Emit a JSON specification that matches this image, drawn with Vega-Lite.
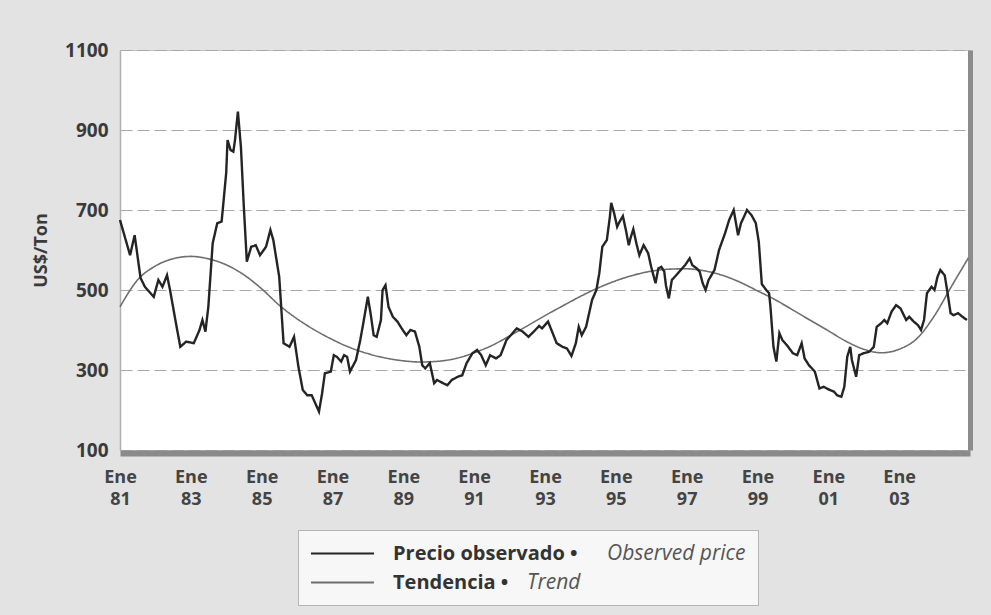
{
  "$schema": "https://vega.github.io/schema/vega-lite/v6.json",
  "width": 850,
  "height": 400,
  "autosize": {"type": "none"},
  "padding": {"left": 120, "top": 50, "right": 21, "bottom": 165},
  "background": "#e3e3e3",
  "config": {
    "font": "Open Sans",
    "view": {"fill": "white", "stroke": "#c4c4c4", "strokeWidth": 1}
  },
  "datasets": {
    "observado": [
      {"fecha": "1981-01-01", "precio": 675}, {"fecha": "1981-04-15", "precio": 587}, {"fecha": "1981-06-01", "precio": 637},
      {"fecha": "1981-08-01", "precio": 530}, {"fecha": "1981-09-15", "precio": 508}, {"fecha": "1981-12-15", "precio": 483},
      {"fecha": "1982-02-01", "precio": 525}, {"fecha": "1982-03-15", "precio": 508}, {"fecha": "1982-05-01", "precio": 537},
      {"fecha": "1982-06-01", "precio": 500}, {"fecha": "1982-08-01", "precio": 417}, {"fecha": "1982-09-15", "precio": 358},
      {"fecha": "1982-11-15", "precio": 371}, {"fecha": "1983-02-01", "precio": 367}, {"fecha": "1983-04-01", "precio": 400},
      {"fecha": "1983-05-01", "precio": 425}, {"fecha": "1983-06-01", "precio": 396}, {"fecha": "1983-07-01", "precio": 458},
      {"fecha": "1983-08-15", "precio": 617}, {"fecha": "1983-10-01", "precio": 667}, {"fecha": "1983-11-15", "precio": 671},
      {"fecha": "1984-01-01", "precio": 792}, {"fecha": "1984-01-15", "precio": 875}, {"fecha": "1984-02-15", "precio": 850},
      {"fecha": "1984-03-15", "precio": 846}, {"fecha": "1984-04-01", "precio": 875}, {"fecha": "1984-05-01", "precio": 946},
      {"fecha": "1984-06-01", "precio": 858}, {"fecha": "1984-07-01", "precio": 708}, {"fecha": "1984-08-01", "precio": 571},
      {"fecha": "1984-09-15", "precio": 608}, {"fecha": "1984-11-01", "precio": 612}, {"fecha": "1984-12-15", "precio": 587},
      {"fecha": "1985-02-15", "precio": 608}, {"fecha": "1985-04-01", "precio": 650}, {"fecha": "1985-05-01", "precio": 625},
      {"fecha": "1985-07-01", "precio": 533}, {"fecha": "1985-08-15", "precio": 367}, {"fecha": "1985-10-15", "precio": 358},
      {"fecha": "1985-12-01", "precio": 383}, {"fecha": "1986-01-15", "precio": 308}, {"fecha": "1986-03-01", "precio": 250},
      {"fecha": "1986-04-15", "precio": 237}, {"fecha": "1986-06-01", "precio": 237}, {"fecha": "1986-08-15", "precio": 196},
      {"fecha": "1986-09-15", "precio": 240}, {"fecha": "1986-10-15", "precio": 292}, {"fecha": "1986-12-15", "precio": 296},
      {"fecha": "1987-01-15", "precio": 337}, {"fecha": "1987-02-15", "precio": 333}, {"fecha": "1987-04-01", "precio": 321},
      {"fecha": "1987-05-01", "precio": 337}, {"fecha": "1987-06-01", "precio": 333}, {"fecha": "1987-07-01", "precio": 296},
      {"fecha": "1987-09-01", "precio": 325}, {"fecha": "1987-10-15", "precio": 375}, {"fecha": "1987-11-15", "precio": 417},
      {"fecha": "1988-01-01", "precio": 483}, {"fecha": "1988-02-01", "precio": 437}, {"fecha": "1988-03-01", "precio": 387},
      {"fecha": "1988-04-01", "precio": 383}, {"fecha": "1988-05-15", "precio": 425}, {"fecha": "1988-06-01", "precio": 500},
      {"fecha": "1988-07-01", "precio": 512}, {"fecha": "1988-08-01", "precio": 458}, {"fecha": "1988-09-15", "precio": 433},
      {"fecha": "1988-11-01", "precio": 421}, {"fecha": "1988-12-15", "precio": 404}, {"fecha": "1989-02-01", "precio": 387},
      {"fecha": "1989-03-15", "precio": 400}, {"fecha": "1989-05-01", "precio": 396}, {"fecha": "1989-06-15", "precio": 358},
      {"fecha": "1989-07-15", "precio": 312}, {"fecha": "1989-08-15", "precio": 304}, {"fecha": "1989-10-01", "precio": 317},
      {"fecha": "1989-11-15", "precio": 267}, {"fecha": "1989-12-15", "precio": 275}, {"fecha": "1990-02-15", "precio": 267},
      {"fecha": "1990-04-01", "precio": 262}, {"fecha": "1990-05-15", "precio": 275}, {"fecha": "1990-07-15", "precio": 283},
      {"fecha": "1990-09-01", "precio": 287}, {"fecha": "1990-10-15", "precio": 317}, {"fecha": "1990-12-15", "precio": 342},
      {"fecha": "1991-02-01", "precio": 350}, {"fecha": "1991-03-15", "precio": 337}, {"fecha": "1991-05-01", "precio": 312},
      {"fecha": "1991-06-15", "precio": 337}, {"fecha": "1991-08-15", "precio": 329}, {"fecha": "1991-10-01", "precio": 337},
      {"fecha": "1991-12-01", "precio": 375}, {"fecha": "1992-01-15", "precio": 387}, {"fecha": "1992-03-15", "precio": 404},
      {"fecha": "1992-05-15", "precio": 396}, {"fecha": "1992-07-15", "precio": 383}, {"fecha": "1992-09-15", "precio": 398},
      {"fecha": "1992-11-01", "precio": 410}, {"fecha": "1992-12-01", "precio": 404}, {"fecha": "1993-02-01", "precio": 421},
      {"fecha": "1993-03-15", "precio": 396}, {"fecha": "1993-05-01", "precio": 367}, {"fecha": "1993-07-01", "precio": 358},
      {"fecha": "1993-08-15", "precio": 354}, {"fecha": "1993-10-01", "precio": 335}, {"fecha": "1993-11-15", "precio": 367},
      {"fecha": "1993-12-15", "precio": 408}, {"fecha": "1994-01-15", "precio": 387}, {"fecha": "1994-03-01", "precio": 408},
      {"fecha": "1994-04-01", "precio": 442}, {"fecha": "1994-05-01", "precio": 475}, {"fecha": "1994-06-15", "precio": 500},
      {"fecha": "1994-07-15", "precio": 542}, {"fecha": "1994-08-15", "precio": 608}, {"fecha": "1994-10-01", "precio": 625},
      {"fecha": "1994-11-01", "precio": 683}, {"fecha": "1994-11-15", "precio": 718}, {"fecha": "1994-12-15", "precio": 692},
      {"fecha": "1995-01-15", "precio": 658}, {"fecha": "1995-02-01", "precio": 667}, {"fecha": "1995-03-15", "precio": 685},
      {"fecha": "1995-04-15", "precio": 650}, {"fecha": "1995-05-15", "precio": 612}, {"fecha": "1995-06-01", "precio": 629},
      {"fecha": "1995-07-01", "precio": 652}, {"fecha": "1995-08-01", "precio": 617}, {"fecha": "1995-09-01", "precio": 587},
      {"fecha": "1995-10-15", "precio": 612}, {"fecha": "1995-12-01", "precio": 592}, {"fecha": "1996-01-01", "precio": 558},
      {"fecha": "1996-02-15", "precio": 517}, {"fecha": "1996-03-15", "precio": 554}, {"fecha": "1996-04-15", "precio": 558},
      {"fecha": "1996-05-15", "precio": 546}, {"fecha": "1996-06-01", "precio": 512}, {"fecha": "1996-07-01", "precio": 479},
      {"fecha": "1996-08-01", "precio": 525}, {"fecha": "1996-09-15", "precio": 537}, {"fecha": "1996-11-01", "precio": 550},
      {"fecha": "1996-12-15", "precio": 562}, {"fecha": "1997-02-01", "precio": 579}, {"fecha": "1997-03-01", "precio": 562},
      {"fecha": "1997-04-15", "precio": 554}, {"fecha": "1997-05-15", "precio": 546}, {"fecha": "1997-06-15", "precio": 517},
      {"fecha": "1997-07-15", "precio": 500}, {"fecha": "1997-08-15", "precio": 525}, {"fecha": "1997-10-15", "precio": 550},
      {"fecha": "1997-12-01", "precio": 600}, {"fecha": "1998-02-01", "precio": 642}, {"fecha": "1998-03-15", "precio": 675},
      {"fecha": "1998-05-01", "precio": 700}, {"fecha": "1998-06-15", "precio": 637}, {"fecha": "1998-07-15", "precio": 667},
      {"fecha": "1998-08-15", "precio": 683}, {"fecha": "1998-09-15", "precio": 700}, {"fecha": "1998-11-01", "precio": 687},
      {"fecha": "1998-12-15", "precio": 667}, {"fecha": "1999-01-15", "precio": 620}, {"fecha": "1999-02-15", "precio": 515},
      {"fecha": "1999-04-01", "precio": 500}, {"fecha": "1999-05-01", "precio": 492}, {"fecha": "1999-05-15", "precio": 458},
      {"fecha": "1999-06-15", "precio": 358}, {"fecha": "1999-07-15", "precio": 321}, {"fecha": "1999-08-15", "precio": 392},
      {"fecha": "1999-09-15", "precio": 375}, {"fecha": "1999-11-01", "precio": 362}, {"fecha": "2000-01-01", "precio": 342},
      {"fecha": "2000-02-15", "precio": 337}, {"fecha": "2000-04-01", "precio": 367}, {"fecha": "2000-05-01", "precio": 329},
      {"fecha": "2000-06-15", "precio": 312}, {"fecha": "2000-08-15", "precio": 296}, {"fecha": "2000-10-01", "precio": 254},
      {"fecha": "2000-11-15", "precio": 258}, {"fecha": "2001-01-15", "precio": 250}, {"fecha": "2001-03-01", "precio": 246},
      {"fecha": "2001-04-01", "precio": 237}, {"fecha": "2001-05-15", "precio": 233}, {"fecha": "2001-06-15", "precio": 258},
      {"fecha": "2001-07-15", "precio": 333}, {"fecha": "2001-08-15", "precio": 358}, {"fecha": "2001-09-01", "precio": 325},
      {"fecha": "2001-10-15", "precio": 283}, {"fecha": "2001-11-15", "precio": 337}, {"fecha": "2002-01-01", "precio": 342},
      {"fecha": "2002-03-01", "precio": 346}, {"fecha": "2002-04-15", "precio": 358}, {"fecha": "2002-05-15", "precio": 408},
      {"fecha": "2002-07-01", "precio": 417}, {"fecha": "2002-08-01", "precio": 425}, {"fecha": "2002-09-01", "precio": 417},
      {"fecha": "2002-10-15", "precio": 446}, {"fecha": "2002-12-01", "precio": 462}, {"fecha": "2003-01-15", "precio": 454},
      {"fecha": "2003-03-15", "precio": 425}, {"fecha": "2003-04-15", "precio": 433}, {"fecha": "2003-06-01", "precio": 421},
      {"fecha": "2003-07-15", "precio": 412}, {"fecha": "2003-08-15", "precio": 400}, {"fecha": "2003-09-15", "precio": 425},
      {"fecha": "2003-10-15", "precio": 492}, {"fecha": "2003-12-01", "precio": 508}, {"fecha": "2004-01-01", "precio": 500},
      {"fecha": "2004-02-01", "precio": 533}, {"fecha": "2004-03-01", "precio": 550}, {"fecha": "2004-04-15", "precio": 537},
      {"fecha": "2004-05-15", "precio": 492}, {"fecha": "2004-06-15", "precio": 442}, {"fecha": "2004-07-15", "precio": 437},
      {"fecha": "2004-09-01", "precio": 442}, {"fecha": "2004-10-15", "precio": 433}, {"fecha": "2004-12-01", "precio": 425}
    ],
    "tendencia": [
      {"fecha": "1981-01-01", "precio": 458}, {"fecha": "1981-07-01", "precio": 525}, {"fecha": "1982-01-01", "precio": 560},
      {"fecha": "1982-07-01", "precio": 578}, {"fecha": "1983-01-01", "precio": 584}, {"fecha": "1983-07-01", "precio": 578},
      {"fecha": "1984-01-01", "precio": 563}, {"fecha": "1984-07-01", "precio": 538}, {"fecha": "1985-01-01", "precio": 503},
      {"fecha": "1985-07-01", "precio": 462}, {"fecha": "1986-01-01", "precio": 428}, {"fecha": "1986-07-01", "precio": 400},
      {"fecha": "1987-01-01", "precio": 376}, {"fecha": "1987-07-01", "precio": 356}, {"fecha": "1988-01-01", "precio": 341},
      {"fecha": "1988-07-01", "precio": 330}, {"fecha": "1989-01-01", "precio": 323}, {"fecha": "1989-07-01", "precio": 320},
      {"fecha": "1990-01-01", "precio": 322}, {"fecha": "1990-07-01", "precio": 329}, {"fecha": "1991-01-01", "precio": 343},
      {"fecha": "1991-07-01", "precio": 361}, {"fecha": "1992-01-01", "precio": 385}, {"fecha": "1992-07-01", "precio": 410},
      {"fecha": "1993-01-01", "precio": 436}, {"fecha": "1993-07-01", "precio": 460}, {"fecha": "1994-01-01", "precio": 484},
      {"fecha": "1994-07-01", "precio": 505}, {"fecha": "1995-01-01", "precio": 523}, {"fecha": "1995-07-01", "precio": 537},
      {"fecha": "1996-01-01", "precio": 547}, {"fecha": "1996-07-01", "precio": 552}, {"fecha": "1997-01-01", "precio": 553},
      {"fecha": "1997-07-01", "precio": 548}, {"fecha": "1998-01-01", "precio": 537}, {"fecha": "1998-07-01", "precio": 520},
      {"fecha": "1999-01-01", "precio": 498}, {"fecha": "1999-07-01", "precio": 476}, {"fecha": "2000-01-01", "precio": 450},
      {"fecha": "2000-07-01", "precio": 424}, {"fecha": "2001-01-01", "precio": 398}, {"fecha": "2001-07-01", "precio": 372},
      {"fecha": "2002-01-01", "precio": 352}, {"fecha": "2002-07-01", "precio": 343}, {"fecha": "2003-01-01", "precio": 352},
      {"fecha": "2003-07-01", "precio": 378}, {"fecha": "2004-01-01", "precio": 436}, {"fecha": "2004-07-01", "precio": 512},
      {"fecha": "2004-12-15", "precio": 580}
    ]
  },
  "layer": [
    {
      "data": {"name": "tendencia"},
      "mark": {"type": "line", "strokeWidth": 1.6, "interpolate": "monotone"},
      "encoding": {
        "x": {
          "field": "fecha", "type": "temporal",
          "scale": {"type": "utc", "domain": [{"year": 1981, "month": 1, "date": 1, "utc": true}, {"year": 2005, "month": 1, "date": 1, "utc": true}]},
          "axis": {
            "values": [
              {"year": 1981, "month": 1, "date": 1, "utc": true}, {"year": 1983, "month": 1, "date": 1, "utc": true},
              {"year": 1985, "month": 1, "date": 1, "utc": true}, {"year": 1987, "month": 1, "date": 1, "utc": true},
              {"year": 1989, "month": 1, "date": 1, "utc": true}, {"year": 1991, "month": 1, "date": 1, "utc": true},
              {"year": 1993, "month": 1, "date": 1, "utc": true}, {"year": 1995, "month": 1, "date": 1, "utc": true},
              {"year": 1997, "month": 1, "date": 1, "utc": true}, {"year": 1999, "month": 1, "date": 1, "utc": true},
              {"year": 2001, "month": 1, "date": 1, "utc": true}, {"year": 2003, "month": 1, "date": 1, "utc": true}
            ],
            "labelExpr": "['Ene', utcFormat(datum.value, '%y')]",
            "labelFontSize": 18, "labelFontWeight": "bold", "labelColor": "#444444",
            "labelLineHeight": 22, "labelPadding": 15, "labelFlush": false, "labelOverlap": false,
            "ticks": false, "grid": false, "title": null,
            "domainColor": "#8a8a8a", "domainWidth": 6, "offset": 3
          }
        },
        "y": {
          "field": "precio", "type": "quantitative",
          "scale": {"domain": [100, 1100], "nice": false, "zero": false},
          "axis": {"orient": "right", "labels": false, "ticks": false, "grid": false, "title": null, "domainColor": "#8c8c8c", "domainWidth": 5}
        },
        "color": {
          "datum": "Tendencia", "type": "nominal",
          "scale": {"domain": ["Precio observado", "Tendencia"], "range": ["#242424", "#6e6e6e"]},
          "legend": {
            "orient": "none", "legendX": 178, "legendY": 480, "title": null, "zindex": 2,
            "direction": "vertical", "rowPadding": 7,
            "symbolType": "M-1,0H5", "symbolSize": 441, "symbolStrokeWidth": 2,
            "labelOffset": 60, "labelLimit": 400, "labelFontSize": 20, "labelFontWeight": "bold", "labelColor": "#333333",
            "labelExpr": "datum.value + ' •'",
            "padding": 12, "fillColor": "transparent", "strokeColor": "transparent"
          }
        },
        "strokeDash": {
          "datum": "Trend", "type": "nominal",
          "scale": {"domain": ["Observed price", "Trend"], "range": [[1, 0], [1, 0]]},
          "legend": {
            "orient": "none", "legendX": 178, "legendY": 480, "title": null, "zindex": 1,
            "direction": "vertical", "rowPadding": 7,
            "symbolType": "M-1,0H5", "symbolSize": 441, "symbolStrokeWidth": 2, "symbolOpacity": 0,
            "labelOffset": {"expr": "datum.value == 'Observed price' ? 274 : 194"},
            "labelLimit": 400, "labelFontSize": 21, "labelFontStyle": "italic", "labelFontWeight": "normal", "labelColor": "#555555",
            "padding": 12, "fillColor": "#f7f7f7", "strokeColor": "#b5b5b5"
          }
        }
      }
    },
    {
      "data": {"name": "observado"},
      "mark": {"type": "line", "strokeWidth": 2.4},
      "encoding": {
        "x": {"field": "fecha", "type": "temporal"},
        "y": {
          "field": "precio", "type": "quantitative",
          "scale": {"domain": [100, 1100], "nice": false, "zero": false},
          "axis": {
            "orient": "left", "values": [100, 300, 500, 700, 900, 1100], "format": "d",
            "labelFontSize": 19, "labelFontWeight": "bold", "labelColor": "#3a3a3a", "labelPadding": 12,
            "ticks": false, "domainColor": "#b0b0b0", "domainWidth": 1.5,
            "grid": true, "gridColor": "#a8a8a8", "gridDash": [12, 5], "gridWidth": 1,
            "title": "US$/Ton", "titleFontSize": 18, "titleFontWeight": "bold", "titleColor": "#3a3a3a", "titlePadding": 14
          }
        },
        "color": {"datum": "Precio observado", "type": "nominal"},
        "strokeDash": {"datum": "Observed price", "type": "nominal"}
      }
    }
  ],
  "resolve": {"axis": {"y": "independent"}}
}
